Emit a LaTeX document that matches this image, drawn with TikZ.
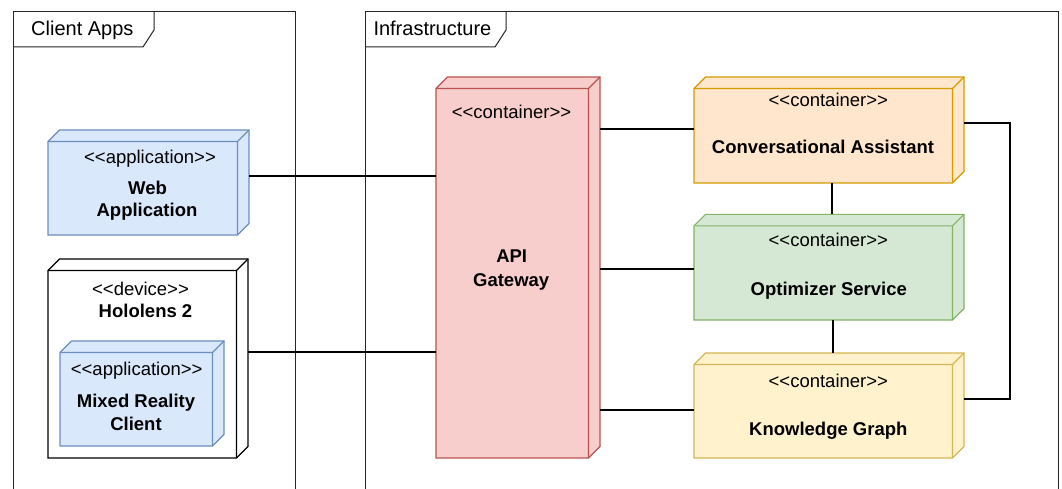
\documentclass[tikz,border=0pt]{standalone}
\usepackage{fontspec}
\setmainfont{Liberation Sans}[Ligatures=TeXOff]
\usetikzlibrary{fit}

\definecolor{blueFill}{HTML}{DAE8FC}\definecolor{blueLine}{HTML}{6C8EBF}
\definecolor{redFill}{HTML}{F8CECC}\definecolor{redLine}{HTML}{B85450}
\definecolor{orangeFill}{HTML}{FFE6CC}\definecolor{orangeLine}{HTML}{D79B00}
\definecolor{greenFill}{HTML}{D5E8D4}\definecolor{greenLine}{HTML}{82B366}
\definecolor{yellowFill}{HTML}{FFF2CC}\definecolor{yellowLine}{HTML}{D6B656}

\tikzset{
  bluebox/.style={draw=blueLine, fill=blueFill, line width=1.1pt},
  redbox/.style={draw=redLine, fill=redFill, line width=1.1pt},
  orangebox/.style={draw=orangeLine, fill=orangeFill, line width=1.1pt},
  greenbox/.style={draw=greenLine, fill=greenFill, line width=1.1pt},
  yellowbox/.style={draw=yellowLine, fill=yellowFill, line width=1.1pt},
  whitebox/.style={draw=black, fill=white, line width=1.1pt},
  framebox/.style={draw=black!85, line width=1pt},
  conn/.style={draw=black, line width=2pt},
  stereo/.style={anchor=base, inner sep=0, font=\fontsize{18.5}{22}\selectfont},
  title/.style={anchor=base, inner sep=0, font=\fontsize{18.5}{22}\selectfont\bfseries},
  framelabel/.style={anchor=base west, inner sep=0, font=\fontsize{20}{24}\selectfont},
}

% 3D node box: #1 style, #2 name, (#3,#4) top-left, (#5,#6) bottom-right
\newcommand{\cubebox}[6]{%
  \path[#1] (#3,#4+11.5) -- (#3+11.5,#4) -- (#5,#4) -- (#5,#6-11.5)
    -- (#5-11.5,#6) -- (#3,#6) -- cycle;
  \draw[#1, fill=none] (#3,#4+11.5) -- (#5-11.5,#4+11.5) -- (#5-11.5,#6)
    (#5-11.5,#4+11.5) -- (#5,#4);
  \coordinate (#2-nw) at (#3,#4);
  \coordinate (#2-se) at (#5,#6);
  \node[fit=(#2-nw)(#2-se), inner sep=0, draw=none] (#2) {};
}

\begin{document}
\begin{tikzpicture}[x=1pt, y=-1pt]
\useasboundingbox (0,0) rectangle (1062,489);
\clip (0,0) rectangle (1062,489);
\fill[white] (0,0) rectangle (1062,489);

% package frames
\draw[framebox] (13,500) -- (13,12) -- (295,12) -- (295,500);
\draw[framebox] (13,47) -- (143,47) -- (154,30) -- (154,12);
\node[framelabel] (clientlbl) at (31,36) {Client Apps};

\draw[framebox] (365,500) -- (365,12) -- (1058,12) -- (1058,500);
\draw[framebox] (365,47) -- (495,47) -- (506,30) -- (506,12);
\node[framelabel] (infralbl) at (373.3,36) {Infrastructure};

% client side
\cubebox{bluebox}{web}{48}{130}{249}{235}
\node[stereo] (webst) at (150,163.7) {<<application>>};
\node[title] (webt1) at (147.5,195) {Web};
\node[title] (webt2) at (147,216.7) {Application};

\cubebox{whitebox}{holo}{48}{259}{248}{458}
\node[stereo] (holost) at (140.5,295) {<<device>>};
\node[title] (holot) at (145.5,317.7) {Hololens 2};

\cubebox{bluebox}{mrc}{60}{341}{224}{446}
\node[stereo] (mrcst) at (136.7,375.3) {<<application>>};
\node[title] (mrct1) at (136,407.7) {Mixed Reality};
\node[title] (mrct2) at (136,430) {Client};

% infrastructure
\cubebox{redbox}{api}{436}{77}{600}{458}
\node[stereo] (apist) at (511.5,118.3) {<<container>>};
\node[title] (apit1) at (511.7,262.7) {API};
\node[title] (apit2) at (511.2,286) {Gateway};

\cubebox{orangebox}{conv}{694}{77}{964}{183}
\node[stereo] (convst) at (828.3,106.7) {<<container>>};
\node[title] (convt) at (823,153.3) {Conversational Assistant};

\cubebox{greenbox}{opt}{694}{214.3}{964}{320}
\node[stereo] (optst) at (828.3,246.7) {<<container>>};
\node[title] (optt) at (828.8,295) {Optimizer Service};

\cubebox{yellowbox}{kg}{694}{353}{964}{458}
\node[stereo] (kgst) at (828.3,387.7) {<<container>>};
\node[title] (kgt) at (828.3,435.7) {Knowledge Graph};

% connectors
\draw[conn] ([yshift=6.8pt]web.east) coordinate (c1) -- (c1 -| api.west);
\draw[conn] ([yshift=6.5pt]holo.east) coordinate (c2) -- (c2 -| api.west);
\draw[conn] ([yshift=0.7pt]conv.west) coordinate (c3) -- (c3 -| api.east);
\draw[conn] ([yshift=-2.3pt]opt.west) coordinate (c4) -- (c4 -| api.east);
\draw[conn] ([yshift=-4.5pt]kg.west) coordinate (c5) -- (c5 -| api.east);
\draw[conn] ([xshift=3.3pt]conv.south) coordinate (c6) -- (c6 |- opt.north);
\draw[conn] ([xshift=4.3pt]opt.south) coordinate (c7) -- (c7 |- kg.north);
\coordinate (c9) at ([yshift=6.5pt]kg.east);
\draw[conn] ([yshift=6.7pt]conv.east) -- ++(46,0) coordinate (c8)
  -- (c8 |- c9) -- (c9);
\end{tikzpicture}
\end{document}
